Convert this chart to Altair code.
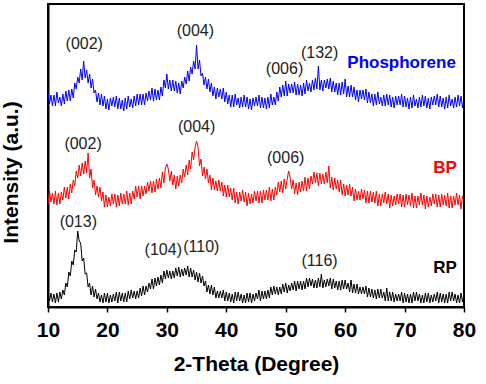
import altair as alt
import numpy as np
import pandas as pd

# 2-theta sampling grid (degrees), 0.25 degree step
two_theta = list(np.round(np.arange(10, 80.001, 0.25), 2))

# Intensities (a.u., offset stacked), one row per degree
phosphorene = [
    214, 203, 212, 201,  212, 201, 215, 204,  210, 201, 213, 203,  216, 206, 217, 206,  218, 209, 224, 218,
    230, 224, 238, 227,  246, 229, 237, 224,  233, 219, 228, 214,  217, 205, 214, 202,  213, 201, 211, 198,
    208, 197, 209, 201,  210, 200, 211, 198,  209, 198, 207, 196,  209, 198, 211, 200,  208, 199, 211, 201,
    213, 202, 213, 202,  213, 202, 214, 206,  216, 207, 219, 206,  218, 207, 217, 207,  220, 211, 227, 219,
    233, 218, 227, 216,  227, 216, 226, 214,  224, 213, 226, 219,  230, 223, 236, 226,  240, 233, 246, 238,
    262, 238, 247, 231,  234, 222, 230, 218,  228, 215, 224, 211,  220, 208, 219, 210,  218, 208, 219, 205,
    215, 203, 212, 200,  212, 200, 213, 202,  209, 199, 210, 200,  212, 200, 210, 198,  208, 197, 209, 201,
    210, 201, 212, 199,  210, 199, 209, 198,  210, 199, 213, 202,  210, 202, 215, 206,  220, 210, 222, 211,
    226, 211, 223, 214,  223, 214, 225, 212,  223, 212, 222, 211,  224, 213, 227, 216,  224, 215, 227, 217,
    229, 218, 241, 217,  227, 216, 227, 219,  228, 218, 229, 215,  226, 215, 224, 212,  224, 212, 225, 213,
    228, 210, 221, 210,  222, 210, 220, 207,  217, 205, 217, 208,  217, 207, 218, 204,  215, 204, 213, 201,
    213, 202, 215, 203,  210, 201, 212, 201,  213, 202, 212, 200,  210, 199, 211, 202,  211, 202, 213, 200,
    211, 200, 209, 198,  210, 199, 212, 201,  208, 199, 210, 200,  212, 201, 211, 199,  209, 198, 210, 202,
    211, 202, 213, 200,  211, 200, 209, 198,  210, 199, 212, 201,  208, 199, 210, 200,  212, 201, 211, 199,
    209,
]
bp = [
    103, 116, 105, 114,  103, 116, 102, 114,  103, 115, 107, 120,  109, 120, 108, 123,  114, 127, 121, 136,
    129, 142, 131, 144,  133, 146, 134, 154,  129, 138, 119, 127,  112, 121, 110, 120,  106, 115, 100, 112,
    100, 110, 101, 113,  103, 113, 100, 112,  101, 114, 103, 113,  103, 116, 102, 114,  103, 116, 108, 121,
    110, 121, 108, 121,  111, 121, 113, 125,  116, 126, 114, 126,  115, 128, 118, 129,  119, 135, 124, 139,
    143, 138, 126, 136,  122, 132, 118, 131,  121, 132, 124, 138,  130, 142, 132, 147,  138, 155, 147, 160,
    166, 160, 141, 148,  131, 140, 128, 138,  124, 132, 117, 129,  117, 126, 116, 127,  116, 125, 111, 122,
    110, 122, 110, 119,  107, 119, 104, 115,  103, 115, 106, 117,  105, 115, 101, 114,  103, 113, 104, 116,
    106, 116, 104, 116,  104, 117, 107, 117,  107, 120, 106, 118,  107, 120, 112, 125,  115, 126, 114, 128,
    118, 128, 136, 129,  118, 127, 113, 124,  112, 125, 115, 126,  116, 130, 116, 129,  118, 131, 123, 135,
    124, 134, 121, 134,  123, 133, 123, 135,  124, 141, 119, 130,  117, 129, 118, 127,  115, 127, 112, 123,
    111, 122, 112, 123,  111, 120, 106, 118,  107, 116, 107, 118,  108, 117, 104, 116,  104, 116, 105, 115,
    104, 116, 101, 113,  101, 113, 104, 115,  103, 113,  99, 112,  101, 111, 102, 113,  103, 113, 100, 112,
    100, 113, 102, 112,  101, 114,  99, 111,   99, 111, 102, 114,  102, 112,  98, 111,  100, 110, 101, 113,
    103, 113, 100, 112,  100, 113, 102, 112,  101, 114,  99, 111,   99, 111, 102, 114,  102, 112,  98, 111,
    108,
]
rp = [
    15, 6, 14, 5,   13, 4, 14, 5,   15, 8, 17, 12,  24, 20, 35, 31,  46, 42, 57, 55,
    76, 66, 64, 46,  49, 33, 34, 20,  24, 12, 21, 10,  18, 8, 14, 5,   12, 4, 14, 5,
    14, 4, 12, 5,   13, 6, 15, 4,   15, 6, 14, 5,   14, 5, 16, 8,   17, 9, 16, 8,
    16, 9, 19, 11,  21, 12, 21, 15,  24, 18, 28, 18,  29, 21, 30, 22,  32, 24, 36, 28,
    37, 29, 36, 28,  36, 29, 39, 31,  40, 30, 38, 31,  39, 32, 41, 30,  39, 30, 37, 27,
    35, 25, 34, 24,  31, 21, 26, 15,  22, 13, 22, 12,  20, 9, 16, 9,   16, 9, 17, 6,
    15, 6, 14, 5,   13, 4, 15, 6,   15, 6, 13, 4,   12, 4, 14, 5,   14, 4, 13, 6,
    14, 8, 17, 6,   16, 8, 16, 8,   17, 9, 20, 12,  21, 13, 20, 12,  20, 13, 23, 15,
    24, 14, 22, 16,  24, 17, 26, 16,  26, 18, 26, 17,  26, 18, 29, 20,  29, 21, 28, 19,
    27, 19, 29, 20,  33, 19, 27, 20,  28, 21, 29, 18,  28, 19, 26, 17,  26, 17, 27, 18,
    27, 18, 24, 15,  27, 14, 23, 14,  23, 13, 20, 13,  20, 13, 21, 10,  19, 10, 18, 9,
    17, 8, 18, 9,   18, 9, 15, 6,   19, 6, 15, 6,   15, 5, 13, 6,   13, 6, 15, 4,
    14, 5, 13, 4,   13, 4, 15, 6,   15, 6, 13, 4,   12, 4, 14, 5,   14, 4, 12, 5,
    13, 6, 15, 4,   14, 5, 13, 4,   13, 4, 15, 6,   15, 6, 13, 4,   12, 4, 14, 5,
    13,
]

series_names = ["Phosphorene", "BP", "RP"]
series_colors = ["#0000ff", "#ff0000", "#000000"]

# Peak (hkl) annotations
peak_text = ["(002)", "(004)", "(006)", "(132)",
             "(002)", "(004)", "(006)",
             "(013)", "(104)", "(110)", "(116)"]
peak_x = [16.1, 34.8, 49.8, 55.7,
          15.9, 35.0, 50.0,
          15.1, 29.4, 35.8, 55.7]
peak_y = [263, 276, 238, 254,
          163, 180, 149,
          85, 57, 60, 46]

# Sample name labels
sample_x = [69.5, 76.8, 76.8]
sample_y = [244, 139, 39]

X_DOMAIN = [10, 80]
Y_DOMAIN = [0, 303]

FONT = "Liberation Sans"

rows = []
for name, vals in zip(series_names, [phosphorene, bp, rp]):
    assert len(vals) == len(two_theta), (name, len(vals))
    for t, v in zip(two_theta, vals):
        rows.append({"x": float(t), "y": v, "series": name})
df = pd.DataFrame(rows)

peaks_df = pd.DataFrame({"x": peak_x, "y": peak_y, "t": peak_text})
samples_df = pd.DataFrame({"x": sample_x, "y": sample_y, "t": series_names, "series": series_names})
frame_df = pd.DataFrame({"xmax": [X_DOMAIN[1]], "ymax": [Y_DOMAIN[1]]})

color_scale = alt.Scale(domain=series_names, range=series_colors)
x_scale = alt.Scale(domain=X_DOMAIN, nice=False, zero=False)
y_scale = alt.Scale(domain=Y_DOMAIN, nice=False, zero=False)

x_axis = alt.Axis(
    title="2-Theta (Degree)",
    values=[10, 15, 20, 25, 30, 35, 40, 45, 50, 55, 60, 65, 70, 75, 80],
    labelExpr="datum.value % 10 === 0 ? datum.label : ''",
    tickSize={"condition": {"test": "datum.value % 10 === 0", "value": 5}, "value": 3},
    grid=False,
    domainColor="black", domainWidth=2,
    tickColor="black", tickWidth=1.5,
    labelFont=FONT, labelFontSize=21, labelFontWeight="bold", labelColor="black",
    labelPadding=7, labelFlush=False, labelOverlap=False,
    titleFont=FONT, titleFontSize=21, titleFontWeight="bold", titleColor="black",
    titleBaseline="alphabetic", titleY=63,
)
y_axis = alt.Axis(
    title="Intensity (a.u.)",
    labels=False, ticks=False, grid=False,
    domainColor="black", domainWidth=2,
    titleFont=FONT, titleFontSize=21, titleFontWeight="bold", titleColor="black",
    titleBaseline="alphabetic", titleAlign="center", titleX=-31, titleY=168,
)

lines = alt.Chart(df).mark_line(strokeWidth=1, clip=True).encode(
    x=alt.X("x:Q", scale=x_scale, axis=x_axis),
    y=alt.Y("y:Q", scale=y_scale, axis=y_axis),
    color=alt.Color("series:N", scale=color_scale, legend=None),
    order=alt.Order("x:Q"),
)

peaks = alt.Chart(peaks_df).mark_text(
    font=FONT, fontSize=16, color="#222222"
).encode(
    x=alt.X("x:Q", scale=x_scale),
    y=alt.Y("y:Q", scale=y_scale),
    text="t:N",
)

samples = alt.Chart(samples_df).mark_text(
    font=FONT, fontSize=17, fontWeight="bold"
).encode(
    x=alt.X("x:Q", scale=x_scale),
    y=alt.Y("y:Q", scale=y_scale),
    text="t:N",
    color=alt.Color("series:N", scale=color_scale, legend=None),
)

# Top and right borders of the plot frame
frame_top = alt.Chart(frame_df).mark_rule(color="black", strokeWidth=2).encode(
    y=alt.Y("ymax:Q", scale=y_scale),
)
frame_right = alt.Chart(frame_df).mark_rule(color="black", strokeWidth=2).encode(
    x=alt.X("xmax:Q", scale=x_scale),
)

chart = alt.layer(lines, peaks, samples, frame_top, frame_right).properties(
    width=416,
    height=303,
    background="white",
    autosize=alt.AutoSizeParams(type="none"),
    padding={"left": 48, "top": 4, "right": 22, "bottom": 77},
).configure_view(
    stroke="black", strokeWidth=2
)

chart.save("out.html", embed_options={"renderer": "svg", "actions": False})
